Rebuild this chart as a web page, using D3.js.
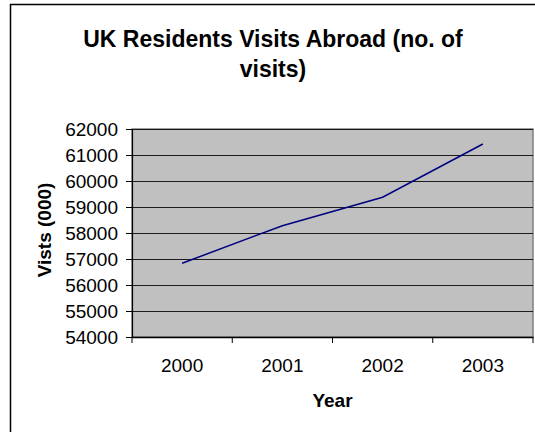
<!DOCTYPE html>
<html>
<head>
<meta charset="utf-8">
<script src="https://cdn.jsdelivr.net/npm/d3@7"></script>
<style>
  body { margin: 0; background: #fff; }
  svg { display: block; font-family: Arial, "Liberation Sans", sans-serif; }
</style>
</head>
<body>
<div id="chart"></div>
<script>
// data
const years = ["2000", "2001", "2002", "2003"];
const visits = [56837, 58281, 59377, 61424];
const yTicks = [54000, 55000, 56000, 57000, 58000, 59000, 60000, 61000, 62000];

const width = 535;
const height = 432;
const plot = { left: 132, right: 533, top: 129, bottom: 337 };

const svg = d3.select("#chart")
    .append("svg")
    .attr("width", width)
    .attr("height", height);

// outer chart border (right and bottom run off the picture)
svg.append("rect")
    .attr("x", 10.5)
    .attr("y", 4.5)
    .attr("width", 540)
    .attr("height", 440)
    .attr("fill", "#fff")
    .attr("stroke", "#000")
    .attr("stroke-width", 1.5);

const x = d3.scaleBand()
    .domain(years)
    .range([plot.left, plot.right])
    .padding(0);

const y = d3.scaleLinear()
    .domain([54000, 62000])
    .range([plot.bottom, plot.top]);

// plot area
svg.append("rect")
    .attr("x", plot.left)
    .attr("y", plot.top)
    .attr("width", plot.right - plot.left)
    .attr("height", plot.bottom - plot.top)
    .attr("fill", "#c0c0c0")
    .attr("stroke", "#808080")
    .attr("stroke-width", 1.5);

// gridlines
svg.append("g")
    .selectAll("line")
    .data(yTicks.slice(1))
    .enter().append("line")
    .attr("x1", plot.left)
    .attr("x2", plot.right)
    .attr("y1", d => Math.round(y(d)) + 0.5)
    .attr("y2", d => Math.round(y(d)) + 0.5)
    .attr("stroke", "#000")
    .attr("stroke-opacity", 0.85)
    .attr("stroke-width", 1.2);

// y axis
const yAxis = svg.append("g")
    .attr("transform", `translate(${plot.left},0)`)
    .call(d3.axisLeft(y).tickValues(yTicks).tickSize(6).tickPadding(8).tickFormat(d3.format("d")));
yAxis.select(".domain").attr("stroke", "#000").attr("stroke-width", 1.2);
yAxis.selectAll(".tick line").attr("stroke", "#000");
yAxis.selectAll("text")
    .attr("font-size", "19px")
    .attr("font-family", "Arial, 'Liberation Sans', sans-serif")
    .attr("fill", "#000");

// x axis
const xAxis = svg.append("g")
    .attr("transform", `translate(0,${plot.bottom})`)
    .call(d3.axisBottom(x).tickSize(0).tickPadding(22));
xAxis.select(".domain").attr("stroke", "#000").attr("stroke-width", 1.5);
xAxis.selectAll("text")
    .attr("font-size", "19px")
    .attr("font-family", "Arial, 'Liberation Sans', sans-serif")
    .attr("fill", "#000");

// tick marks between categories
svg.append("g")
    .selectAll("line")
    .data(years.concat(["end"]))
    .enter().append("line")
    .attr("x1", (d, i) => i < years.length ? x(d) : plot.right)
    .attr("x2", (d, i) => i < years.length ? x(d) : plot.right)
    .attr("y1", plot.bottom)
    .attr("y2", plot.bottom + 6)
    .attr("stroke", "#000");

// the line
const line = d3.line()
    .x((d, i) => x(years[i]) + x.bandwidth() / 2)
    .y(d => y(d));

svg.append("path")
    .datum(visits)
    .attr("d", line)
    .attr("fill", "none")
    .attr("stroke", "#000080")
    .attr("stroke-width", 1.5);

// title
const title = svg.append("text")
    .attr("text-anchor", "middle")
    .attr("font-size", "23px")
    .attr("font-weight", "bold");
title.append("tspan").attr("x", 273).attr("y", 47).text("UK Residents Visits Abroad (no. of");
title.append("tspan").attr("x", 273).attr("y", 77).text("visits)");

// axis titles
svg.append("text")
    .attr("x", (plot.left + plot.right) / 2)
    .attr("y", 407)
    .attr("text-anchor", "middle")
    .attr("font-size", "19px")
    .attr("font-weight", "bold")
    .text("Year");

svg.append("text")
    .attr("transform", "translate(51,230) rotate(-90)")
    .attr("text-anchor", "middle")
    .attr("font-size", "19px")
    .attr("font-weight", "bold")
    .text("Vists (000)");
</script>
</body>
</html>
